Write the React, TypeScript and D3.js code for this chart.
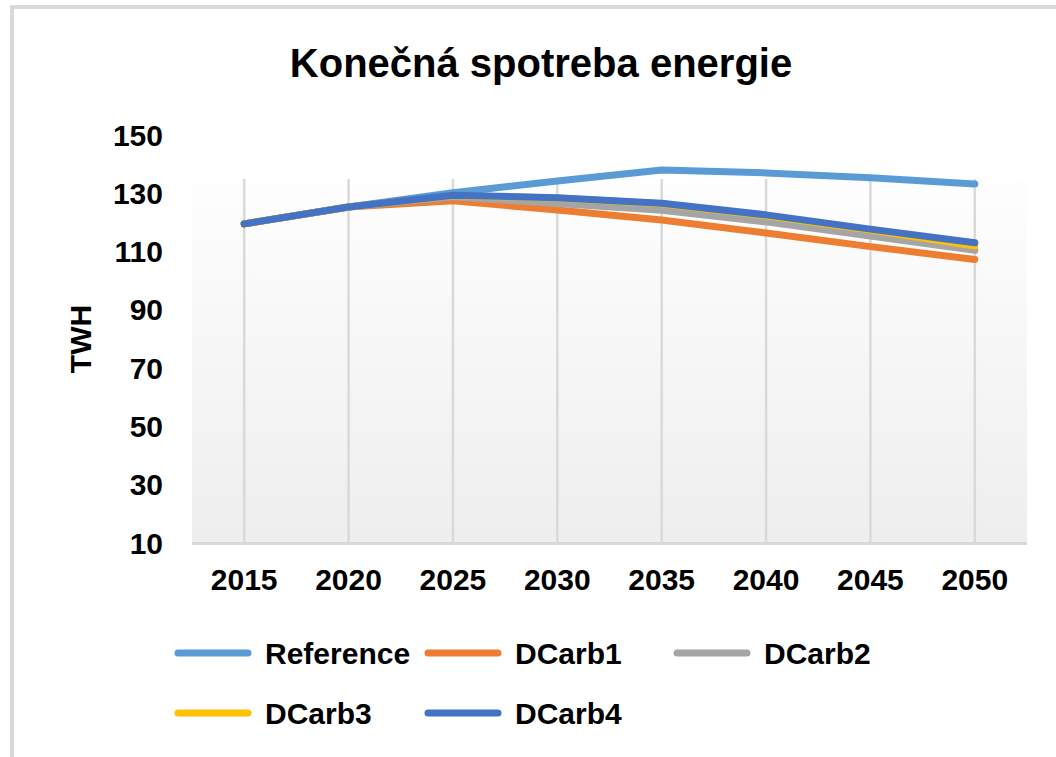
import * as d3 from "d3";

// chart data
const years = ["2015", "2020", "2025", "2030", "2035", "2040", "2045", "2050"];
const reference = [119.5, 125.3, 130.2, 134.2, 138.0, 137.0, 135.3, 133.2];
const dcarb1 = [119.5, 125.3, 127.4, 124.3, 120.8, 116.4, 111.7, 107.3];
const dcarb2 = [119.5, 125.3, 128.8, 126.5, 124.2, 120.2, 115.3, 110.4];
const dcarb3 = [119.5, 125.3, 129.2, 128.4, 126.4, 122.3, 117.4, 111.9];
const dcarb4 = [119.5, 125.3, 129.3, 128.5, 126.6, 122.6, 117.7, 113.0];
const yTicks = [10, 30, 50, 70, 90, 110, 130, 150];

const series = [
  { name: "Reference", values: reference, color: "#5b9bd5" },
  { name: "DCarb1", values: dcarb1, color: "#ed7d31" },
  { name: "DCarb2", values: dcarb2, color: "#a5a5a5" },
  { name: "DCarb3", values: dcarb3, color: "#ffc000" },
  { name: "DCarb4", values: dcarb4, color: "#4472c4" },
];

const W = 1056;
const H = 757;
const font = "'Liberation Sans', Arial, sans-serif";

export default function App() {
  // scales
  const x = d3.scaleBand().domain(years).range([192, 1027]);
  const y = d3.scaleLinear().domain([10, 150]).range([543, 135]);
  const cx = (d: string) => (x(d) ?? 0) + x.bandwidth() / 2;

  const line = d3
    .line<number>()
    .x((_, i) => cx(years[i]))
    .y((v) => y(v));

  const bgTop = 179;

  // legend layout
  const legendPos = [
    [178, 653],
    [428, 653],
    [677, 653],
    [178, 713],
    [428, 713],
  ];

  return (
    <svg
      width={W}
      height={H}
      style={{ position: "absolute", left: 0, top: 0, display: "block" }}
      fontFamily={font}
      fontWeight="bold"
    >
      <defs>
        <linearGradient id="plotBg" x1="0" y1="0" x2="0" y2="1">
          <stop offset="0%" stopColor="#fefefe" />
          <stop offset="100%" stopColor="#eeeeee" />
        </linearGradient>
      </defs>
      <rect width={W} height={H} fill="#ffffff" />
      {/* outer border */}
      <rect x={10} y={5} width={W} height={4} fill="#d9d9d9" />
      <rect x={10} y={5} width={4} height={H} fill="#d9d9d9" />

      {/* title */}
      <text x={541} y={77} textAnchor="middle" fontSize={40} fill="#000">
        Konečná spotreba energie
      </text>

      {/* plot background */}
      <rect
        x={x.range()[0]}
        y={bgTop}
        width={x.range()[1] - x.range()[0]}
        height={y(10) - bgTop}
        fill="url(#plotBg)"
      />

      {/* vertical gridlines */}
      {years.map((d) => (
        <line
          key={d}
          x1={cx(d)}
          x2={cx(d)}
          y1={bgTop}
          y2={y(10)}
          stroke="#d9d9d9"
          strokeWidth={2.5}
        />
      ))}

      {/* x axis line */}
      <line
        x1={x.range()[0]}
        x2={x.range()[1]}
        y1={y(10) + 0.5}
        y2={y(10) + 0.5}
        stroke="#d9d9d9"
        strokeWidth={3}
      />

      {/* y tick labels */}
      {yTicks.map((t) => (
        <text
          key={t}
          x={163}
          y={y(t)}
          dy="0.35em"
          textAnchor="end"
          fontSize={30}
          fill="#000"
        >
          {t}
        </text>
      ))}

      {/* x tick labels */}
      {years.map((d) => (
        <text key={d} x={cx(d)} y={590} textAnchor="middle" fontSize={30} fill="#000">
          {d}
        </text>
      ))}

      {/* y axis title */}
      <text
        transform={`translate(80,${y(80)}) rotate(-90)`}
        textAnchor="middle"
        dy="0.35em"
        fontSize={30}
        fill="#000"
      >
        TWH
      </text>

      {/* lines */}
      {series.map((s) => (
        <path
          key={s.name}
          d={line(s.values) ?? ""}
          fill="none"
          stroke={s.color}
          strokeWidth={7}
          strokeLinecap="round"
          strokeLinejoin="round"
        />
      ))}

      {/* legend */}
      {series.map((s, i) => {
        const [lx, ly] = legendPos[i];
        return (
          <g key={s.name}>
            <line
              x1={lx}
              x2={lx + 70}
              y1={ly}
              y2={ly}
              stroke={s.color}
              strokeWidth={7}
              strokeLinecap="round"
            />
            <text x={lx + 87} y={ly + 11} fontSize={30} fill="#000">
              {s.name}
            </text>
          </g>
        );
      })}
    </svg>
  );
}
